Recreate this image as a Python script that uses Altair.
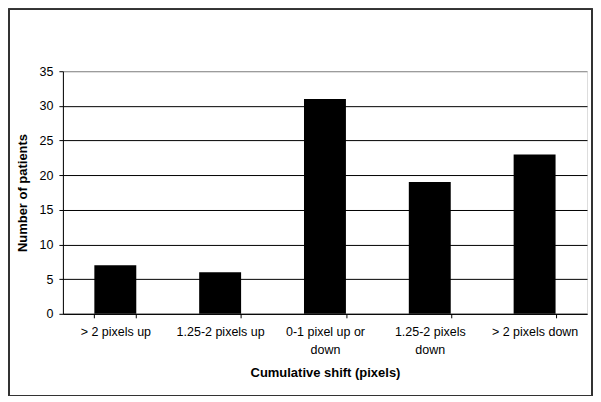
import altair as alt
import pandas as pd

categories = ["> 2 pixels up", "1.25-2 pixels up", "0-1 pixel up or down", "1.25-2 pixels down", "> 2 pixels down"]
patients = [7, 6, 31, 19, 23]

df = pd.DataFrame({"shift": categories, "patients": patients})

FONT = "Liberation Sans"

label_expr = ("datum.value == '0-1 pixel up or down' ? ['0-1 pixel up or', 'down'] : "
              "datum.value == '1.25-2 pixels down' ? ['1.25-2 pixels', 'down'] : datum.value")

bars = alt.Chart(df).mark_bar(color="black").encode(
    x=alt.X("shift:N", sort=categories,
            scale=alt.Scale(paddingInner=0.6, paddingOuter=0.3),
            axis=alt.Axis(title="Cumulative shift (pixels)", labelAngle=0, tickBand="extent",
                          labelExpr=label_expr, labelFont=FONT, labelFontSize=12.5,
                          labelColor="black", labelPadding=8, labelLineHeight=18,
                          tickColor="black", tickSize=4, domainColor="black",
                          titleFont=FONT, titleFontSize=13, titleFontWeight="bold",
                          titleColor="black", titlePadding=10, grid=False)),
    y=alt.Y("patients:Q", scale=alt.Scale(domain=[0, 35], nice=False),
            axis=alt.Axis(title="Number of patients", values=[0, 5, 10, 15, 20, 25, 30, 35],
                          labelFont=FONT, labelFontSize=12.5, labelColor="black",
                          labelPadding=6, tickColor="black", tickSize=4, domainColor="black",
                          gridColor={"condition": {"test": "datum.value == 35", "value": "#888888"},
                                     "value": "black"},
                          gridOpacity=1,
                          titleFont=FONT, titleFontSize=13, titleFontWeight="bold",
                          titleColor="black", titlePadding=10)),
)

border = alt.Chart(df).mark_rect(fill=None, stroke="#333333", strokeWidth=1.5).encode(
    x=alt.value(-54), x2=alt.value(530), y=alt.value(-62), y2=alt.value(325)
)

chart = alt.layer(border, bars).properties(
    width=525, height=243,
    autosize=alt.AutoSizeParams(type="none"),
    padding={"left": 55, "top": 63, "right": 6, "bottom": 82},
).configure_view(stroke="#888888", strokeWidth=1).configure(background="white")

chart.save("out.html", embed_options={"renderer": "svg", "actions": False})
